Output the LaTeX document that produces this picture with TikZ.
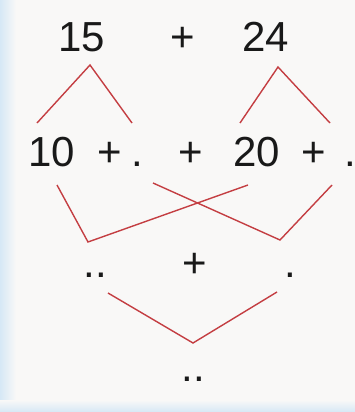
\documentclass[tikz,border=0pt]{standalone}
\usepackage{fontspec}
\setmainfont{Liberation Sans}
\definecolor{bgc}{RGB}{249,248,247}
\definecolor{stripc}{RGB}{214,232,246}
\definecolor{redline}{RGB}{196,62,66}
\begin{document}
\begin{tikzpicture}[x=1pt,y=-1pt,
  t/.style={anchor=base, inner sep=0pt, font=\fontsize{42}{42}\selectfont, text=black!90},
  rl/.style={draw=redline, line width=1.4pt, line join=miter}]
\useasboundingbox (0,0) rectangle (355,412);
\fill[bgc] (0,0) rectangle (355,412);
\shade[left color=stripc, right color=bgc] (0,0) rectangle (16,412);
\shade[top color=bgc, bottom color=stripc] (0,400) rectangle (355,412);
% row 1
\node[t] (n15) at (82,52) {15};
\node[t] (p0) at (183,52) {+};
\node[t] (n24) at (266,52) {24};
% row 2
\node[t] (n10) at (52,166) {10};
\node[t] (p1) at (110,166) {+};
\node[t] (d1) at (137,166) {.};
\node[t] (p2) at (191,166) {+};
\node[t] (n20) at (257,166) {20};
\node[t] (p3) at (314,166) {+};
\node[t] (d2) at (350,166) {.};
% row 3
\node[t] (dd1) at (95,277) {..};
\node[t] (p4) at (195,277) {+};
\node[t] (d3) at (290,277) {.};
% row 4
\node[t] (dd2) at (193,381) {..};
% connector points
\coordinate (a0) at (90,65);
\coordinate (a1) at (37,123);
\coordinate (a2) at (132,123);
\coordinate (b0) at (278,67);
\coordinate (b1) at (240,123);
\coordinate (b2) at (330,123);
\coordinate (c1) at (57,185);
\coordinate (c0) at (88,242);
\coordinate (c2) at (248,185);
\coordinate (e1) at (153,183);
\coordinate (e0) at (280,240);
\coordinate (e2) at (332,185);
\coordinate (f1) at (108,293);
\coordinate (f0) at (193,343);
\coordinate (f2) at (277,292);
\draw[rl] (a1) -- (a0) -- (a2);
\draw[rl] (b1) -- (b0) -- (b2);
\draw[rl] (c1) -- (c0) -- (c2);
\draw[rl] (e1) -- (e0) -- (e2);
\draw[rl] (f1) -- (f0) -- (f2);
\end{tikzpicture}
\end{document}
